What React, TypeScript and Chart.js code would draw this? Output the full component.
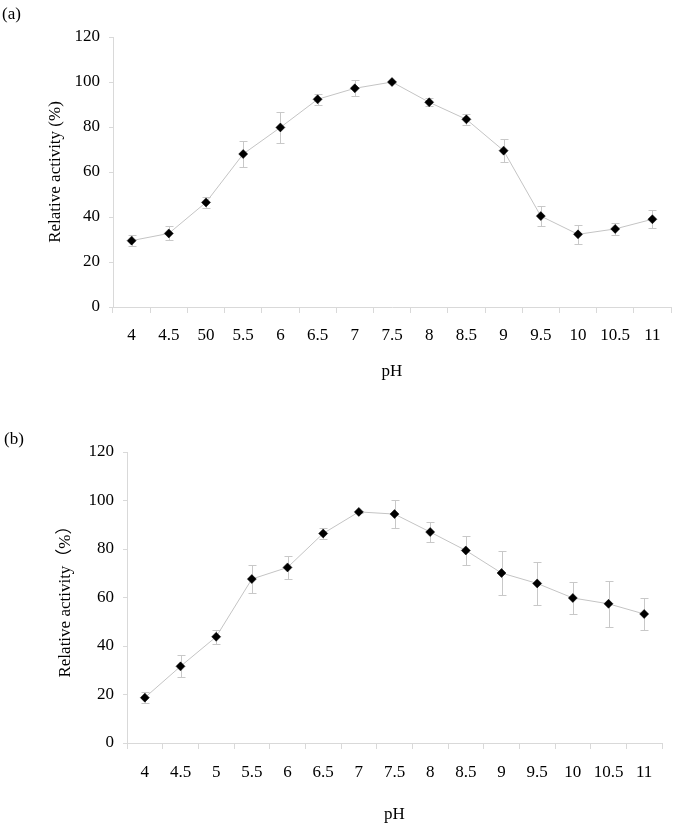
import React, { useEffect, useRef } from 'react';
import { Chart, registerables } from 'chart.js';

Chart.register(...registerables);

const phLabelsA = ['4', '4.5', '50', '5.5', '6', '6.5', '7', '7.5', '8', '8.5', '9', '9.5', '10', '10.5', '11'];
const activityA = [29.5, 32.7, 46.5, 68, 79.8, 92.3, 97.2, 100, 91, 83.4, 69.5, 40.4, 32.3, 34.7, 39];
const errorA = [2.4, 3.1, 2.6, 5.6, 6.7, 2.5, 3.6, 0.5, 1.8, 2.4, 5.1, 4.3, 4.2, 2.8, 3.9];

const phLabelsB = ['4', '4.5', '5', '5.5', '6', '6.5', '7', '7.5', '8', '8.5', '9', '9.5', '10', '10.5', '11'];
const activityB = [18.7, 31.6, 43.8, 67.6, 72.4, 86.4, 95.3, 94.4, 87, 79.4, 70.1, 65.8, 59.8, 57.4, 53.2];
const errorB = [2.3, 4.5, 3, 5.6, 4.7, 2.1, 0.5, 5.7, 4, 5.8, 9.1, 8.9, 6.4, 9.4, 6.6];

const yMin = 0;
const yMax = 120;
const yStep = 20;

const FONT = "'Liberation Serif', 'Times New Roman', 'Noto Sans CJK SC', serif";
const FONT_SIZE = 17;
const AXIS_COLOR = '#d9d9d9';

const errorBarPlugin = {
  id: 'errorBars',
  beforeDatasetsDraw(chart: any, _args: any, opts: any) {
    const errs: number[] = opts.errors;
    if (!errs) return;
    const meta = chart.getDatasetMeta(0);
    const ys = chart.scales.y;
    const data = chart.data.datasets[0].data as number[];
    const ctx = chart.ctx;
    const cap = 4;
    ctx.save();
    ctx.strokeStyle = opts.color || '#c8c8c8';
    ctx.lineWidth = 1;
    meta.data.forEach((pt: any, i: number) => {
      const v = data[i];
      const x = Math.round(pt.x) + 0.5;
      const top = Math.round(ys.getPixelForValue(v + errs[i])) + 0.5;
      const bot = Math.round(ys.getPixelForValue(v - errs[i])) + 0.5;
      ctx.beginPath();
      ctx.moveTo(x, top);
      ctx.lineTo(x, bot);
      ctx.moveTo(x - cap, top);
      ctx.lineTo(x + cap, top);
      ctx.moveTo(x - cap, bot);
      ctx.lineTo(x + cap, bot);
      ctx.stroke();
    });
    ctx.restore();
  },
};

const panelLabelPlugin = {
  id: 'panelLabel',
  afterDraw(chart: any, _args: any, opts: any) {
    if (!opts.text) return;
    const ctx = chart.ctx;
    ctx.save();
    ctx.fillStyle = '#000';
    ctx.font = `${FONT_SIZE}px ${FONT}`;
    ctx.textBaseline = 'middle';
    ctx.textAlign = 'left';
    ctx.fillText(opts.text, opts.x, opts.y);
    ctx.restore();
  },
};

type PanelProps = {
  labels: string[];
  values: number[];
  errors: number[];
  yTitle: string;
  letter: string;
  letterX: number;
  letterY: number;
  height: number;
  padTop: number;
  padRight: number;
  yWidth: number;
  xHeight: number;
  yTitlePad: number;
  xTitlePad: number;
  xTickPad: number;
  top: number;
};

function Panel(p: PanelProps) {
  const ref = useRef<HTMLCanvasElement | null>(null);
  useEffect(() => {
    if (!ref.current) return;
    const chart = new Chart(ref.current, {
      type: 'line',
      data: {
        labels: p.labels,
        datasets: [
          {
            data: p.values,
            borderColor: '#c4c4c4',
            borderWidth: 1,
            pointStyle: 'rectRot',
            pointRadius: 4.5,
            pointBackgroundColor: '#000',
            pointBorderColor: '#000',
            pointBorderWidth: 0.5,
            tension: 0,
            clip: false as any,
          },
        ],
      },
      options: {
        responsive: false,
        animation: false,
        devicePixelRatio: 1,
        layout: { padding: { top: p.padTop, right: p.padRight, left: 0, bottom: 0 } },
        plugins: {
          legend: { display: false },
          tooltip: { enabled: false },
          errorBars: { errors: p.errors, color: '#c8c8c8' },
          panelLabel: { text: p.letter, x: p.letterX, y: p.letterY },
        } as any,
        scales: {
          x: {
            type: 'category',
            offset: true,
            grid: {
              display: true,
              offset: true,
              drawOnChartArea: false,
              drawTicks: true,
              tickLength: 6,
              color: AXIS_COLOR,
            },
            border: { display: true, color: AXIS_COLOR },
            ticks: {
              color: '#000',
              font: { family: FONT, size: FONT_SIZE },
              padding: p.xTickPad,
              autoSkip: false,
              maxRotation: 0,
            },
            title: {
              display: true,
              text: 'pH',
              color: '#000',
              font: { family: FONT, size: FONT_SIZE },
              padding: { top: 0, bottom: p.xTitlePad },
            },
            afterFit: (s: any) => {
              s.height = p.xHeight;
            },
          },
          y: {
            min: yMin,
            max: yMax,
            ticks: {
              stepSize: yStep,
              color: '#000',
              font: { family: FONT, size: FONT_SIZE },
              padding: 9,
            },
            grid: {
              display: true,
              drawOnChartArea: false,
              drawTicks: true,
              tickLength: 4,
              color: AXIS_COLOR,
            },
            border: { display: true, color: AXIS_COLOR },
            title: {
              display: true,
              text: p.yTitle,
              color: '#000',
              font: { family: FONT, size: FONT_SIZE },
              padding: { top: p.yTitlePad, bottom: 0 },
            },
            afterFit: (s: any) => {
              s.width = p.yWidth;
            },
          },
        },
      },
      plugins: [errorBarPlugin, panelLabelPlugin],
    });
    return () => chart.destroy();
  }, []);
  return (
    <canvas
      ref={ref}
      width={676}
      height={p.height}
      style={{ position: 'absolute', left: 0, top: p.top, width: 676, height: p.height, display: 'block' }}
    />
  );
}

export default function App() {
  return (
    <div style={{ position: 'absolute', left: 0, top: 0, width: 676, height: 828, background: '#fff' }}>
      <Panel
        labels={phLabelsA}
        values={activityA}
        errors={errorA}
        yTitle="Relative activity (%)"
        letter="(a)"
        letterX={2}
        letterY={15}
        height={400}
        top={0}
        padTop={37}
        padRight={4}
        yWidth={113}
        xHeight={93}
        yTitlePad={45}
        xTitlePad={18}
        xTickPad={12}
      />
      <Panel
        labels={phLabelsB}
        values={activityB}
        errors={errorB}
        yTitle="Relative activity（%）"
        letter="(b)"
        letterX={4}
        letterY={40}
        height={428}
        top={400}
        padTop={52}
        padRight={14}
        yWidth={127}
        xHeight={85}
        yTitlePad={55}
        xTitlePad={3}
        xTickPad={13}
      />
    </div>
  );
}
